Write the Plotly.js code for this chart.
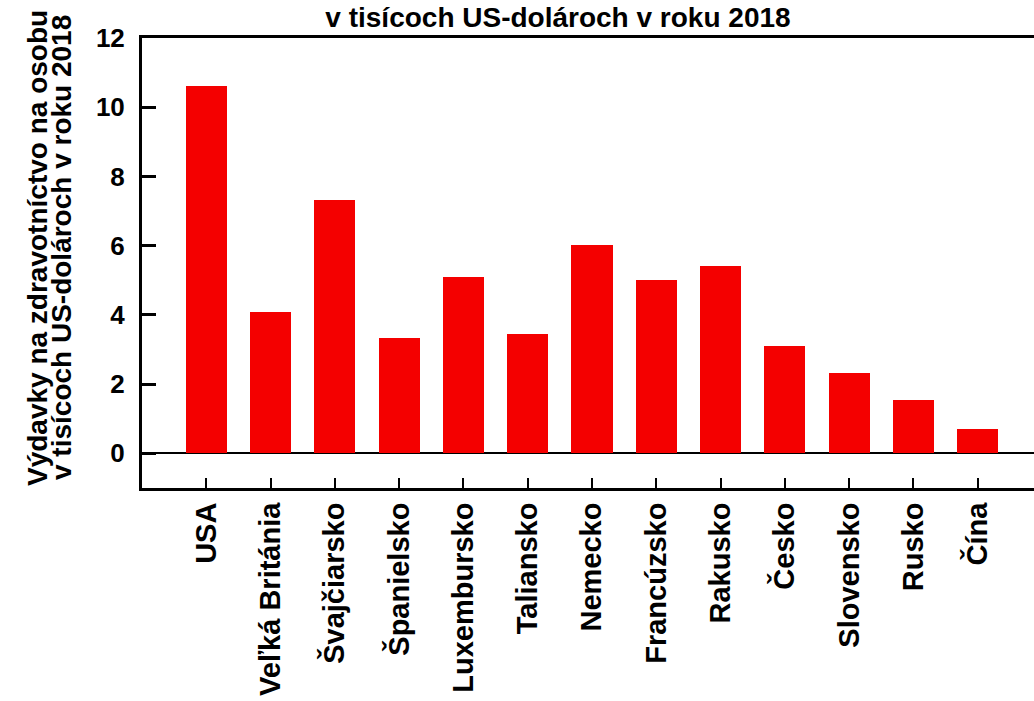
<!DOCTYPE html>
<html>
<head>
<meta charset="utf-8">
<script src="https://cdn.plot.ly/plotly-3.0.1.min.js"></script>
<style>
  html, body { margin: 0; padding: 0; overflow: hidden; background: #fff; }
  #chart { width: 1060px; height: 701px; }
</style>
</head>
<body>
<div id="chart"></div>
<script>
const countries = ["USA", "Veľká Británia", "Švajčiarsko", "Španielsko", "Luxembursko", "Taliansko",
  "Nemecko", "Francúzsko", "Rakusko", "Česko", "Slovensko", "Rusko", "Čína"];
const spending = [10.60, 4.09, 7.33, 3.34, 5.09, 3.46, 6.03, 5.00, 5.41, 3.09, 2.31, 1.53, 0.70];
const titleText = "v tisícoch US-dolároch v roku 2018";
const yTitleLines = ["Výdavky na zdravotníctvo na osobu", "v tisícoch US-dolároch v roku 2018"];
const yTicks = [0, 2, 4, 6, 8, 10, 12];

const fontFamily = "Liberation Sans, Arial, sans-serif";

const trace = {
  type: "bar",
  x: countries,
  y: spending,
  width: 0.64,
  marker: { color: "#f40000", line: { width: 0 } },
  hoverinfo: "x+y"
};

const layout = {
  width: 1060,
  height: 701,
  margin: { l: 142, r: 18, t: 38, b: 213 },
  paper_bgcolor: "#ffffff",
  plot_bgcolor: "#ffffff",
  showlegend: false,
  bargap: 0,
  font: { family: fontFamily, color: "#000", weight: "bold" },
  title: {
    text: titleText,
    font: { family: fontFamily, size: 28, color: "#000", weight: "bold" },
    xref: "paper", x: 0.4622, xanchor: "center",
    yref: "container", y: 1, yanchor: "top",
    pad: { t: 7 }
  },
  xaxis: {
    type: "category",
    range: [-1, 13],
    tickangle: -90,
    ticks: "inside",
    ticklen: 10,
    tickwidth: 2,
    tickcolor: "#000",
    ticklabelstandoff: 0,
    tickfont: { family: fontFamily, size: 29, color: "#000", weight: "bold" },
    showline: true,
    linecolor: "#000",
    linewidth: 3,
    mirror: true,
    showgrid: false,
    zeroline: false,
    fixedrange: true
  },
  yaxis: {
    range: [-1, 12],
    tickvals: yTicks,
    ticktext: yTicks.map(String),
    ticks: "inside",
    ticklen: 14,
    tickwidth: 2.5,
    tickcolor: "#000",
    ticklabelstandoff: 9,
    tickfont: { family: fontFamily, size: 26, color: "#000", weight: "bold" },
    showline: true,
    linecolor: "#000",
    linewidth: 3,
    mirror: true,
    showgrid: false,
    zeroline: true,
    zerolinecolor: "#000",
    zerolinewidth: 2,
    fixedrange: true
  },
  annotations: [
    {
      text: yTitleLines[0],
      textangle: -90,
      xref: "paper", yref: "paper",
      x: (37 - 142) / 900, y: (488 - 248) / 450,
      xanchor: "center", yanchor: "middle",
      showarrow: false,
      font: { family: fontFamily, size: 28, color: "#000", weight: "bold" }
    },
    {
      text: yTitleLines[1],
      textangle: -90,
      xref: "paper", yref: "paper",
      x: (61 - 142) / 900, y: (488 - 248) / 450,
      xanchor: "center", yanchor: "middle",
      showarrow: false,
      font: { family: fontFamily, size: 28, color: "#000", weight: "bold" }
    }
  ]
};

Plotly.newPlot("chart", [trace], layout, { displayModeBar: false });
</script>
</body>
</html>
